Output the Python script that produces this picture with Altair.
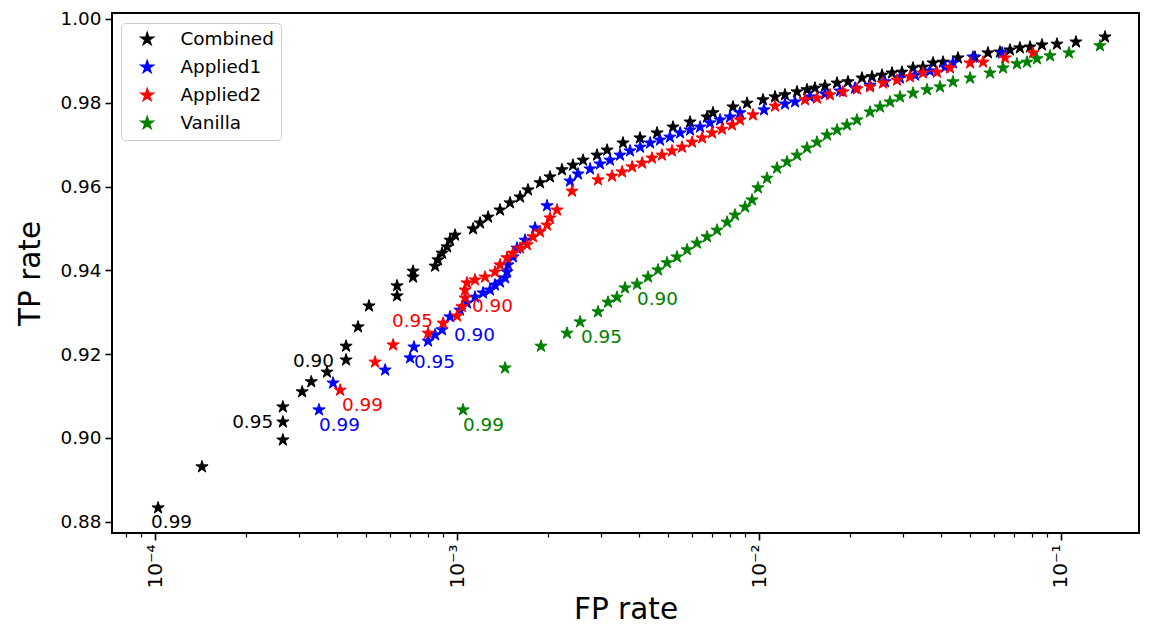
import altair as alt
import pandas as pd

# ---- data (FP rate, TP rate) ----
combined = [
    (1.023e-4, 0.8833), (1.43e-4, 0.8931), (2.65e-4, 0.8995), (2.65e-4, 0.9038), (2.65e-4, 0.9074),
    (3.07e-4, 0.9110), (3.29e-4, 0.9134), (3.71e-4, 0.9157), (4.29e-4, 0.9186), (4.29e-4, 0.9219),
    (4.70e-4, 0.9265), (5.11e-4, 0.9315), (6.33e-4, 0.9339), (6.33e-4, 0.9363), (7.15e-4, 0.9384),
    (7.15e-4, 0.9398), (8.46e-4, 0.9410), (8.65e-4, 0.9425), (8.92e-4, 0.9441), (9.27e-4, 0.9456),
    (9.48e-4, 0.9472), (9.85e-4, 0.9484), (1.130e-3, 0.9499), (1.192e-3, 0.9513), (1.267e-3, 0.9527),
    (1.388e-3, 0.9544), (1.498e-3, 0.9561), (1.617e-3, 0.9575), (1.718e-3, 0.9592), (1.883e-3, 0.9609),
    (2.032e-3, 0.9623), (2.226e-3, 0.9640), (2.42e-3, 0.9651), (2.614e-3, 0.9663), (2.908e-3, 0.9675),
    (3.14e-3, 0.9687), (3.545e-3, 0.9704), (4.036e-3, 0.9716), (4.596e-3, 0.9728), (5.19e-3, 0.9742),
    (5.91e-3, 0.9754), (6.73e-3, 0.9766), (7.04e-3, 0.9776), (8.20e-3, 0.9790), (9.13e-3, 0.9799),
    (1.031e-2, 0.9807), (1.130e-2, 0.9814), (1.219e-2, 0.9819), (1.336e-2, 0.9826), (1.442e-2, 0.9831),
    (1.532e-2, 0.9835), (1.654e-2, 0.9840), (1.813e-2, 0.9847), (1.971e-2, 0.9850), (2.193e-2, 0.9859),
    (2.367e-2, 0.9862), (2.555e-2, 0.9866), (2.757e-2, 0.9871), (2.975e-2, 0.9873), (3.236e-2, 0.9883),
    (3.49e-2, 0.9885), (3.77e-2, 0.9895), (4.07e-2, 0.9897), (4.56e-2, 0.9907), (5.19e-2, 0.9909),
    (5.73e-2, 0.9919), (6.28e-2, 0.9921), (6.78e-2, 0.9926), (7.31e-2, 0.9931), (7.90e-2, 0.9933),
    (8.65e-2, 0.9938), (9.70e-2, 0.9940), (1.121e-1, 0.9945), (1.399e-1, 0.9957),
]

applied1 = [
    (3.49e-4, 0.9067), (3.885e-4, 0.9131), (5.78e-4, 0.9162), (6.99e-4, 0.9191), (7.20e-4, 0.9217),
    (8.02e-4, 0.9231), (8.46e-4, 0.9246), (8.92e-4, 0.9258), (9.48e-4, 0.9289), (1.023e-3, 0.9305),
    (1.079e-3, 0.9322), (1.147e-3, 0.9336), (1.219e-3, 0.9346), (1.286e-3, 0.9353), (1.336e-3, 0.9365),
    (1.388e-3, 0.9372), (1.442e-3, 0.9382), (1.464e-3, 0.9396), (1.475e-3, 0.9413), (1.532e-3, 0.9432),
    (1.580e-3, 0.9453), (1.680e-3, 0.9472), (1.813e-3, 0.9501), (1.986e-3, 0.9554), (2.367e-3, 0.9613),
    (2.516e-3, 0.9630), (2.757e-3, 0.9642), (2.975e-3, 0.9654), (3.21e-3, 0.9663), (3.465e-3, 0.9675),
    (3.74e-3, 0.9685), (4.04e-3, 0.9694), (4.36e-3, 0.9704), (4.70e-3, 0.9711), (5.07e-3, 0.9718),
    (5.48e-3, 0.9728), (5.91e-3, 0.9735), (6.38e-3, 0.9742), (6.88e-3, 0.9752), (7.43e-3, 0.9759),
    (8.02e-3, 0.9766), (8.65e-3, 0.9776), (1.039e-2, 0.9783), (1.219e-2, 0.9797), (1.316e-2, 0.9802),
    (1.476e-2, 0.9814), (1.654e-2, 0.9821), (1.855e-2, 0.9828), (2.079e-2, 0.9835), (2.331e-2, 0.9842),
    (2.614e-2, 0.9850), (2.93e-2, 0.9859), (3.286e-2, 0.9866), (3.68e-2, 0.9876), (4.13e-2, 0.9885),
    (4.39e-2, 0.9895), (5.11e-2, 0.9909), (6.38e-2, 0.9919),
]

applied2 = [
    (4.10e-4, 0.9114), (5.35e-4, 0.9181), (6.14e-4, 0.9222), (8.02e-4, 0.9250), (8.99e-4, 0.9274),
    (1.000e-3, 0.9291), (1.039e-3, 0.9313), (1.063e-3, 0.9334), (1.063e-3, 0.9353), (1.079e-3, 0.9370),
    (1.147e-3, 0.9377), (1.238e-3, 0.9384), (1.336e-3, 0.9396), (1.388e-3, 0.9413), (1.464e-3, 0.9430),
    (1.532e-3, 0.9441), (1.617e-3, 0.9453), (1.705e-3, 0.9461), (1.785e-3, 0.9480), (1.883e-3, 0.9492),
    (1.986e-3, 0.9508), (2.032e-3, 0.9525), (2.143e-3, 0.9544), (2.403e-3, 0.9589), (2.93e-3, 0.9616),
    (3.26e-3, 0.9625), (3.52e-3, 0.9635), (3.80e-3, 0.9647), (4.10e-3, 0.9656), (4.42e-3, 0.9668),
    (4.77e-3, 0.9675), (5.15e-3, 0.9685), (5.56e-3, 0.9694), (6.00e-3, 0.9706), (6.48e-3, 0.9716),
    (6.99e-3, 0.9728), (7.54e-3, 0.9737), (8.14e-3, 0.9747), (8.65e-3, 0.9759), (9.55e-3, 0.9771),
    (1.130e-2, 0.9792), (1.420e-2, 0.9807), (1.556e-2, 0.9811), (1.718e-2, 0.9819), (1.897e-2, 0.9826),
    (2.11e-2, 0.9833), (2.331e-2, 0.9838), (2.574e-2, 0.9847), (2.864e-2, 0.9854), (3.162e-2, 0.9862),
    (3.49e-2, 0.9871), (3.885e-2, 0.9873), (4.29e-2, 0.9883), (5.00e-2, 0.9895), (5.52e-2, 0.9897),
    (6.53e-2, 0.9907), (8.08e-2, 0.9919),
]

vanilla = [
    (1.047e-3, 0.9067), (1.442e-3, 0.9167), (1.897e-3, 0.9219), (2.313e-3, 0.9250), (2.555e-3, 0.9277),
    (2.93e-3, 0.9301), (3.162e-3, 0.9324), (3.386e-3, 0.9336), (3.60e-3, 0.9358), (3.945e-3, 0.9367),
    (4.29e-3, 0.9384), (4.63e-3, 0.9401), (4.96e-3, 0.9418), (5.35e-3, 0.9432), (5.78e-3, 0.9449),
    (6.23e-3, 0.9465), (6.73e-3, 0.9480), (7.26e-3, 0.9496), (7.84e-3, 0.9515), (8.33e-3, 0.9532),
    (8.99e-3, 0.9551), (9.48e-3, 0.9568), (9.92e-3, 0.9597), (1.063e-2, 0.9620), (1.147e-2, 0.9644),
    (1.238e-2, 0.9659), (1.336e-2, 0.9675), (1.442e-2, 0.9692), (1.556e-2, 0.9706), (1.680e-2, 0.9723),
    (1.813e-2, 0.9735), (1.956e-2, 0.9747), (2.11e-2, 0.9759), (2.331e-2, 0.9778), (2.516e-2, 0.9790),
    (2.715e-2, 0.9802), (2.93e-2, 0.9814), (3.236e-2, 0.9823), (3.60e-2, 0.9831), (3.975e-2, 0.9838),
    (4.39e-2, 0.9850), (5.00e-2, 0.9859), (5.82e-2, 0.9871), (6.43e-2, 0.9883), (7.15e-2, 0.9893),
    (7.72e-2, 0.9897), (8.33e-2, 0.9905), (9.20e-2, 0.9912), (1.063e-1, 0.9919), (1.346e-1, 0.9936),
]

series_names = ["Combined", "Applied1", "Applied2", "Vanilla"]
series_colors = ["#000000", "#0000ff", "#ff0000", "#008000"]

# threshold annotations: series, text, FP, TP (text left edge / vertical centre)
label_series = ["Combined", "Combined", "Combined", "Applied1", "Applied1", "Applied1",
                "Applied2", "Applied2", "Applied2", "Vanilla", "Vanilla", "Vanilla"]
label_text = ["0.99", "0.95", "0.90"] * 4
label_fp = [9.70e-5, 1.80e-4, 2.864e-4, 3.49e-4, 7.20e-4, 9.77e-4,
            4.16e-4, 6.09e-4, 1.121e-3, 1.047e-3, 2.574e-3, 3.945e-3]
label_tp = [0.8799, 0.9038, 0.9184, 0.9031, 0.9181, 0.9246,
            0.9079, 0.9279, 0.9315, 0.9031, 0.9241, 0.9332]

x_ticks = [m * 10.0 ** e for e in range(-5, 0) for m in range(1, 10)
           if 7.2e-5 <= m * 10.0 ** e <= 0.18]
y_ticks = [0.88, 0.90, 0.92, 0.94, 0.96, 0.98, 1.00]

# ---- build tables ----
rows = []
idx = 0
for name, pts in zip(series_names, [combined, applied1, applied2, vanilla]):
    for fp, tp in pts:
        rows.append({"fp": fp, "tp": tp, "series": name, "idx": idx})
        idx += 1
df = pd.DataFrame(rows)
labels_df = pd.DataFrame({"series": label_series, "label": label_text,
                          "fp": label_fp, "tp": label_tp})

STAR = ("M0,-1L0.2245,-0.309L0.951,-0.309L0.363,0.118L0.588,0.809L0,0.382"
        "L-0.588,0.809L-0.363,0.118L-0.951,-0.309L-0.2245,-0.309Z")
FONT = "DejaVu Sans"
DECADE = "abs(log(datum.value)/LN10 - round(log(datum.value)/LN10)) < 0.01"

x_scale = alt.Scale(type="log", domain=[7.2e-5, 0.1813], nice=False)
y_scale = alt.Scale(domain=[0.87731, 1.00143], nice=False, zero=False)
color_scale = alt.Scale(domain=series_names, range=series_colors)

x_axis = alt.Axis(
    values=x_ticks, title="FP rate", grid=False, domain=False,
    labelExpr=DECADE + " ? '10\u207b' + ['\u2070','\u00b9','\u00b2','\u00b3','\u2074','\u2075'][-round(log(datum.value)/LN10)] : ''",
    labelAngle=-90, labelOverlap=False, labelFlush=False, labelFontSize=20, labelFont=FONT,
    labelColor="black", labelPadding=4,
    tickColor="black",
    tickSize={"condition": {"test": DECADE, "value": 7}, "value": 4},
    tickWidth={"condition": {"test": DECADE, "value": 1.6}, "value": 1.2},
    titleFontSize=29.5, titleFont=FONT, titleFontWeight="normal", titleColor="black", titlePadding=7,
)
y_axis = alt.Axis(
    values=y_ticks, format=".2f", title="TP rate", grid=False, domain=False,
    labelFontSize=18.4, labelFont=FONT, labelColor="black", labelPadding=4,
    tickColor="black", tickSize=7, tickWidth=1.6,
    titleFontSize=29.5, titleFont=FONT, titleFontWeight="normal", titleColor="black", titlePadding=15,
)

points = alt.Chart(df).mark_point(shape=STAR, filled=True, size=165, opacity=1, strokeWidth=1).encode(
    x=alt.X("fp:Q", scale=x_scale, axis=x_axis),
    y=alt.Y("tp:Q", scale=y_scale, axis=y_axis),
    color=alt.Color("series:N", scale=color_scale, legend=alt.Legend(
        title=None, orient="none", legendX=9, legendY=10, padding=7,
        strokeColor="#cccccc", cornerRadius=4, fillColor="white",
        symbolType=STAR, symbolSize=165, symbolOffset=10, labelOffset=24, rowPadding=8,
        labelFontSize=18.4, labelFont=FONT, labelColor="black", labelLimit=400,
    )),
    stroke=alt.Stroke("series:N", scale=color_scale, legend=None),
    order=alt.Order("idx:Q"),
)

texts = alt.Chart(labels_df).mark_text(
    align="left", baseline="middle", font=FONT, fontSize=18.4
).encode(
    x=alt.X("fp:Q", scale=x_scale),
    y=alt.Y("tp:Q", scale=y_scale),
    text="label:N",
    color=alt.Color("series:N", scale=color_scale, legend=None),
)

chart = alt.layer(points, texts).properties(
    width=1027, height=520,
    autosize=alt.AutoSizeParams(type="none"),
    padding={"left": 104, "top": 5, "right": 3, "bottom": 92},
).configure(font=FONT).configure_view(stroke="black", strokeWidth=2)

chart.save("out.html", embed_options={"renderer": "svg", "actions": False})
